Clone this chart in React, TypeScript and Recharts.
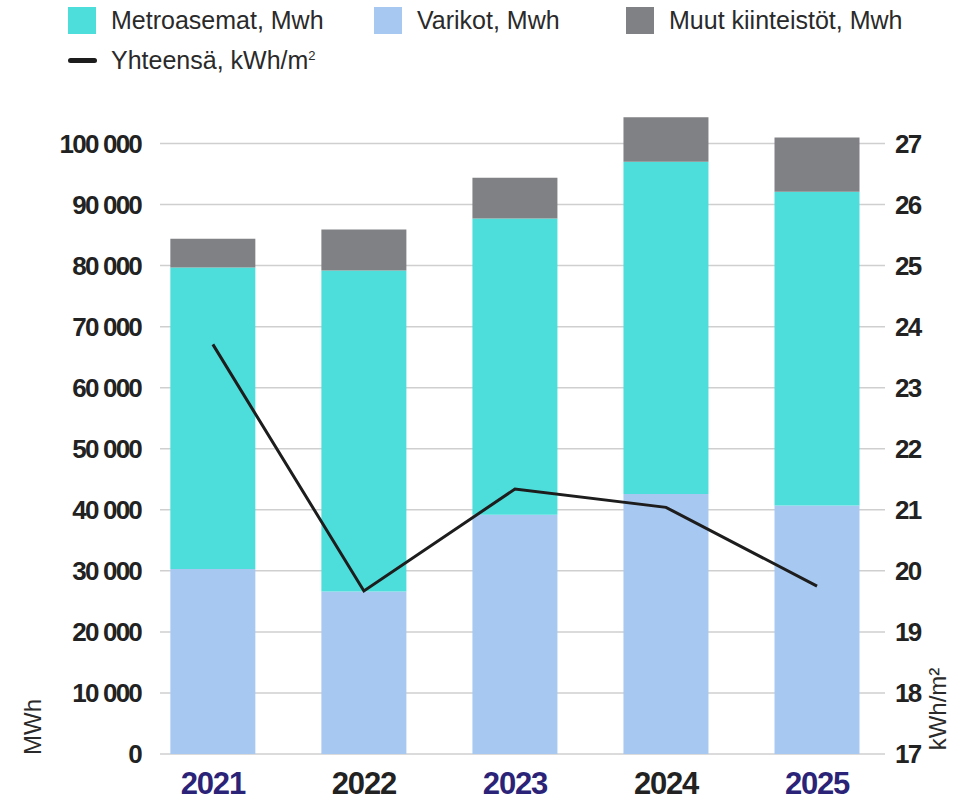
import { Bar, CartesianGrid, ComposedChart, Line, XAxis, YAxis } from "recharts";

const YEARS = [2021, 2022, 2023, 2024, 2025];
const VARIKOT = [30300, 26600, 39200, 42600, 40700];
const METRO = [49400, 52600, 48500, 54400, 51400];
const MUUT = [4700, 6700, 6700, 7300, 8900];
const TOTAL_KWH_M2 = [23.71, 19.67, 21.34, 21.04, 19.75];

const LEFT_TICKS = [0, 10000, 20000, 30000, 40000, 50000, 60000, 70000, 80000, 90000, 100000];
const RIGHT_TICKS = [17, 18, 19, 20, 21, 22, 23, 24, 25, 26, 27];

const TEAL = "#4ddedb";
const BLUE = "#a7c9f1";
const GRAY = "#808184";
const INK = "#222222";
const PURPLE = "#2b2378";
const FONT = "'Liberation Sans', sans-serif";

const data = YEARS.map((year, i) => ({
  year,
  varikot: VARIKOT[i],
  metro: METRO[i],
  muut: MUUT[i],
  total: TOTAL_KWH_M2[i],
}));

const fmtThousands = (v: number) =>
  v.toString().replace(/\B(?=(\d{3})+(?!\d))/g, " ");

function YearTick({ x, y, payload }: any) {
  const odd = (payload.value - 2021) % 2 === 0;
  return (
    <text
      x={x}
      y={y}
      dy="0.71em"
      textAnchor="middle"
      fontFamily={FONT}
      fontWeight={700}
      fontSize={31}
      letterSpacing={-1.2}
      fill={odd ? PURPLE : INK}
    >
      {payload.value}
    </text>
  );
}

function LegendSwatch({ left, top, color, label }: { left: number; top: number; color: string; label: string }) {
  return (
    <div style={{ position: "absolute", left, top, display: "flex", alignItems: "center" }}>
      <div style={{ width: 28, height: 27, background: color, marginRight: 15 }} />
      <span style={{ fontFamily: FONT, fontSize: 25, color: "#2a2a2a" }}>{label}</span>
    </div>
  );
}

const tickStyle = { fontFamily: FONT, fontWeight: 700, fontSize: 26, fill: INK, letterSpacing: -1.8 };

export default function App() {
  return (
    <div style={{ position: "absolute", left: 0, top: 0, width: 968, height: 803, background: "#fff" }}>
      <LegendSwatch left={68} top={6} color={TEAL} label="Metroasemat, Mwh" />
      <LegendSwatch left={374} top={6} color={BLUE} label="Varikot, Mwh" />
      <LegendSwatch left={626} top={6} color={GRAY} label="Muut kiinteistöt, Mwh" />
      <div style={{ position: "absolute", left: 68, top: 46, display: "flex", alignItems: "center" }}>
        <div style={{ width: 29, height: 5, borderRadius: 3, background: "#1d1d1d", marginRight: 14 }} />
        <span style={{ fontFamily: FONT, fontSize: 25, color: "#2a2a2a" }}>
          Yhteensä, kWh/m<sup style={{ fontSize: 13 }}>2</sup>
        </span>
      </div>

      <ComposedChart
        width={968}
        height={803}
        data={data}
        margin={{ top: 113, right: 0, bottom: 0, left: 0 }}
      >
        <CartesianGrid
          yAxisId="left"
          vertical={false}
          horizontalValues={LEFT_TICKS}
          stroke="#cfcfcf"
          strokeWidth={1.5}
        />
        <XAxis
          dataKey="year"
          type="number"
          domain={[2020.65, 2025.45]}
          ticks={YEARS}
          allowDecimals={false}
          height={49}
          axisLine={false}
          tickLine={false}
          tickSize={0}
          tickMargin={18}
          tick={<YearTick />}
        />
        <YAxis
          yAxisId="left"
          domain={[0, 105000]}
          ticks={LEFT_TICKS}
          width={160}
          axisLine={false}
          tickLine={false}
          tickSize={0}
          tickMargin={19}
          tickFormatter={fmtThousands}
          tick={tickStyle}
          label={{
            value: "MWh",
            angle: -90,
            position: "insideBottomLeft",
            dx: 36,
            dy: -22,
            style: { fontFamily: FONT, fontSize: 24, fill: "#2a2a2a", textAnchor: "middle" },
          }}
        />
        <YAxis
          yAxisId="right"
          orientation="right"
          domain={[17, 27.5]}
          ticks={RIGHT_TICKS}
          width={83}
          axisLine={false}
          tickLine={false}
          tickSize={0}
          tickMargin={10}
          tick={tickStyle}
          label={{
            value: "kWh/m²",
            angle: -90,
            position: "insideBottomRight",
            dx: -17,
            dy: -40,
            style: { fontFamily: FONT, fontSize: 24, fill: "#2a2a2a", textAnchor: "middle" },
          }}
        />
        <Bar yAxisId="left" dataKey="varikot" stackId="a" fill={BLUE} barSize={85} isAnimationActive={false} />
        <Bar yAxisId="left" dataKey="metro" stackId="a" fill={TEAL} barSize={85} isAnimationActive={false} />
        <Bar yAxisId="left" dataKey="muut" stackId="a" fill={GRAY} barSize={85} isAnimationActive={false} />
        <Line
          yAxisId="right"
          dataKey="total"
          stroke="#1d1d1d"
          strokeWidth={3}
          dot={false}
          activeDot={false}
          isAnimationActive={false}
        />
      </ComposedChart>
    </div>
  );
}
